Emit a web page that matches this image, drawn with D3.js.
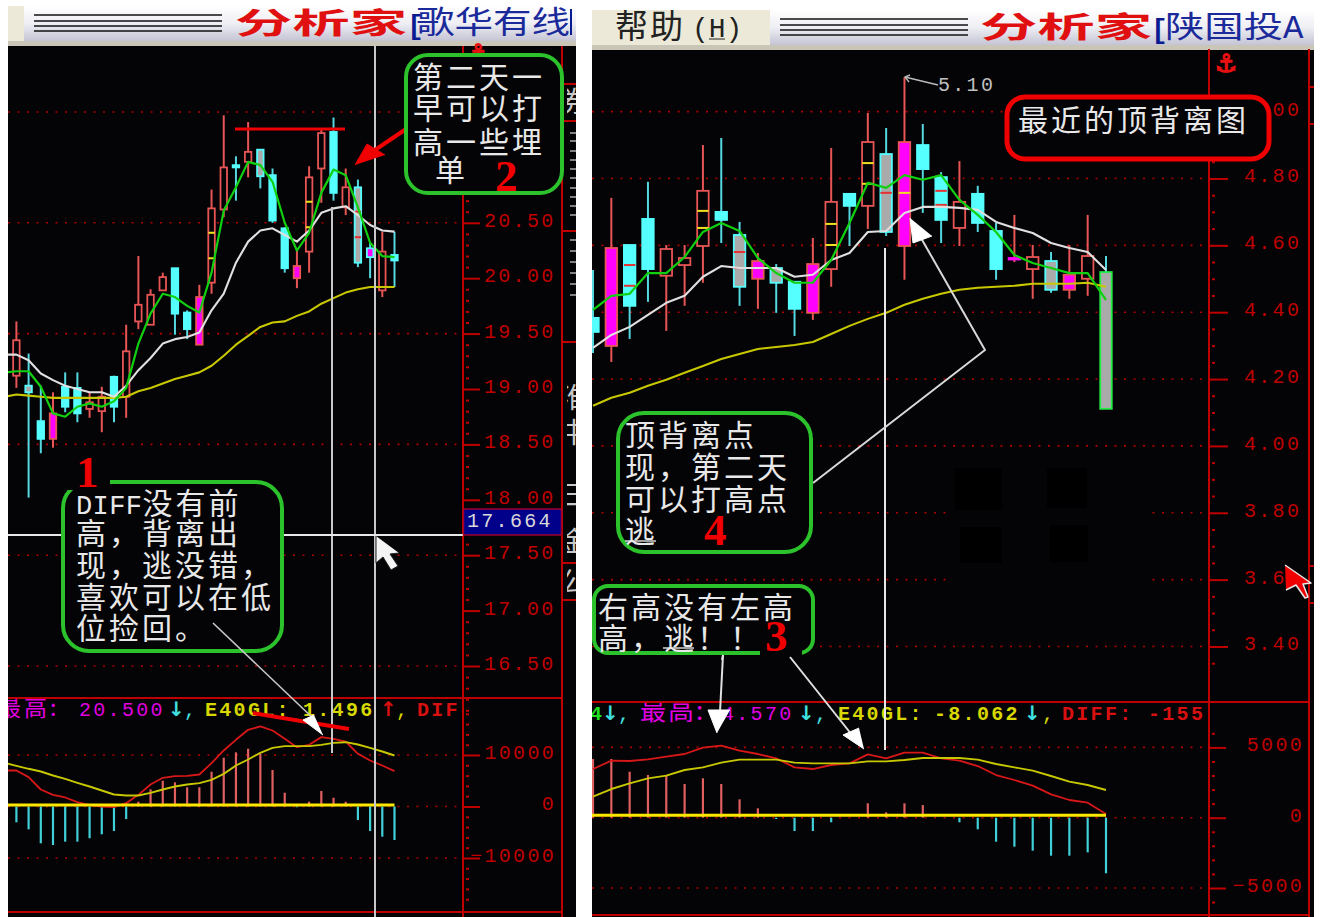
<!DOCTYPE html>
<html><head><meta charset="utf-8">
<script src="https://cdn.jsdelivr.net/npm/d3@7/dist/d3.min.js"></script>
<style>html,body{margin:0;padding:0;background:#fff;overflow:hidden}svg{display:block}</style>
</head><body><svg id="c" width="1323" height="917"></svg>
<script>
// ---------- left chart: price (index 0..31) ----------
const leftHigh=[19.61,19.32,19.03,18.97,19.15,19.15,18.97,19.02,19.12,19.58,20.20,19.90,20.05,20.09,19.71,19.94,20.80,21.47,21.10,21.41,21.16,20.99,20.46,20.27,21.01,21.34,21.45,20.99,20.89,20.32,20.42,20.42];
const leftLow=[19.01,18.02,18.42,18.47,18.79,18.70,18.74,18.61,18.70,18.74,19.54,19.58,19.89,19.49,19.45,19.40,19.86,20.55,20.70,20.91,20.81,20.50,20.05,19.91,20.05,20.68,20.70,20.57,20.10,20.00,19.83,19.92];
const leftTop=[19.44,19.03,18.71,18.78,19.02,19.01,18.88,18.93,19.11,19.34,19.76,19.85,20.01,20.09,19.69,19.83,20.63,21.00,21.02,21.14,21.16,20.93,20.45,20.11,20.91,21.31,21.32,20.82,20.82,20.27,20.24,20.21];
const leftBottom=[19.12,18.97,18.55,18.55,18.84,18.78,18.82,18.80,18.84,18.93,19.61,19.58,19.89,19.68,19.54,19.40,19.96,20.62,21.00,21.05,20.92,20.52,20.09,20.00,20.24,20.99,20.77,20.64,20.14,20.19,19.89,20.16];
const leftKind=["u","g","d","m","d","d","u","u","d","u","u","u","u","d","d","m","u","u","d","u","g","d","d","m","u","u","d","u","g","c","u","d"];
// moving averages start one session earlier (index -1, cut by the panel edge)
const leftMaGreen=[19.15,19.16,19.16,19.02,18.78,18.75,18.84,18.87,18.84,18.89,19.01,19.41,19.68,19.86,19.83,19.75,19.69,20.05,20.61,20.82,21.05,21.02,20.87,20.50,20.25,20.41,20.77,20.98,20.93,20.64,20.32,20.20,20.19];
const leftMaWhite=[19.31,19.31,19.26,19.14,19.08,19.03,19.00,18.97,18.97,18.93,19.03,19.17,19.28,19.41,19.45,19.47,19.51,19.71,19.86,20.14,20.33,20.43,20.45,20.39,20.33,20.43,20.59,20.63,20.65,20.57,20.48,20.43,20.42];
const leftMaYellow=[18.93,18.95,18.94,18.93,18.92,18.92,18.92,18.92,18.92,18.92,18.93,18.98,19.01,19.05,19.09,19.12,19.15,19.21,19.30,19.40,19.48,19.56,19.60,19.61,19.66,19.70,19.77,19.82,19.87,19.90,19.92,19.92,19.92];
const leftYellowTicks=[[16,20.41],[16,20.18],[24,20.69],[24,20.46]];
const leftRedTicks=[[28,20.60],[28,20.37]];
const leftPriceTicks=[16.5,17,17.5,18,18.5,19,19.5,20,20.5,21,21.5];
const leftGridPrices=[21.5,20.5,19.5,18.5,17.5,16.5];
// ---------- left chart: MACD ----------
const leftBars=[-3070,-4430,-7150,-7480,-6830,-6830,-6170,-5400,-4760,-2430,930,3340,5010,4700,3730,3730,6760,9480,10520,11220,10190,7090,2680,-150,930,3010,1700,930,-2620,-4760,-5860,-6500];
const leftDiff=[6990,6990,5700,3300,2260,1750,840,260,0,-130,650,2260,4270,5570,5890,5950,6210,8420,10880,12950,14890,15540,14760,13140,11520,11970,13470,13140,12620,10230,8930,7960,6860];
const leftDea=[8480,7900,7320,6800,6020,5370,4600,3880,3110,2330,2140,2140,2650,3300,3880,4270,4530,5180,6340,7960,9130,10420,11390,11720,11720,11720,11970,12360,12490,12040,11390,10680,9900];
const leftMacdTicks=[-10000,0,10000];
// ---------- right chart: price (index 0..28) ----------
const rightHigh=[4.526,4.742,4.601,4.790,4.601,4.601,4.900,4.921,4.670,4.577,4.544,4.491,4.622,4.891,4.754,4.996,4.951,5.103,4.963,4.819,4.852,4.778,4.667,4.691,4.601,4.580,4.601,4.691,4.568];
const rightLow=[4.278,4.251,4.320,4.431,4.344,4.419,4.488,4.607,4.419,4.410,4.398,4.329,4.377,4.476,4.598,4.649,4.628,4.497,4.697,4.607,4.598,4.640,4.497,4.550,4.440,4.458,4.440,4.449,4.111];
const rightTop=[4.383,4.592,4.601,4.679,4.589,4.562,4.763,4.700,4.631,4.553,4.532,4.491,4.544,4.730,4.754,4.909,4.873,4.909,4.900,4.804,4.730,4.754,4.643,4.562,4.565,4.553,4.512,4.568,4.520];
const rightBottom=[4.341,4.299,4.419,4.529,4.509,4.541,4.598,4.676,4.476,4.500,4.488,4.410,4.398,4.529,4.718,4.718,4.640,4.598,4.828,4.676,4.652,4.667,4.529,4.559,4.529,4.467,4.467,4.500,4.111];
const rightKind=["d","m","d","d","u","u","u","d","g","m","g","d","m","u","d","u","g","m","d","d","u","d","d","x","u","g","m","u","k"];
const rightMaGreen=[4.407,4.449,4.455,4.517,4.517,4.565,4.640,4.667,4.643,4.562,4.517,4.488,4.488,4.556,4.667,4.787,4.772,4.810,4.796,4.810,4.736,4.691,4.640,4.571,4.547,4.532,4.517,4.517,4.437];
const rightMaWhite=[4.293,4.332,4.356,4.392,4.428,4.449,4.506,4.538,4.532,4.532,4.532,4.506,4.512,4.556,4.577,4.640,4.643,4.697,4.715,4.715,4.712,4.706,4.670,4.652,4.637,4.607,4.592,4.580,4.526];
const rightMaYellow=[4.120,4.144,4.159,4.180,4.198,4.219,4.239,4.260,4.275,4.290,4.296,4.302,4.311,4.335,4.359,4.380,4.398,4.422,4.440,4.455,4.467,4.473,4.476,4.479,4.485,4.485,4.485,4.488,4.476];
const rightYellowTicks=[[6,4.703],[6,4.652],[13,4.664],[13,4.601],[15,4.846],[15,4.784],[17,4.757]];
const rightRedTicks=[[2,4.541],[2,4.479],[8,4.580],[8,4.532],[16,4.757],[19,4.763],[19,4.721]];
const rightPriceTicks=[3.4,3.6,3.8,4.0,4.2,4.4,4.6,4.8,5.0];
// ---------- right chart: MACD ----------
const rightBars=[4175,4175,3272,3037,2966,2397,2802,2397,1309,669,-92,-946,-946,-327,0,1024,384,1024,903,0,-327,-825,-1705,-2063,-2347,-2703,-2703,-2468,-3954];
const rightDiff=[3463,4056,4032,4151,4340,4530,4981,5123,4767,4530,4222,3582,3463,3748,3866,4506,4222,4625,4625,4222,4056,3676,3036,2681,2278,1661,1258,1068,262];
const rightDea=[1495,2040,2444,2799,2989,3392,3582,3914,4127,4127,4127,3914,3866,3866,3866,4008,4008,4103,4246,4246,4246,4127,3819,3582,3345,2965,2562,2325,1970];
const rightMacdTicks=[-5000,0,5000];

// ---------- scales ----------
const xL=d3.scaleLinear().domain([0,31]).range([16.4,394.5]);
const xR=d3.scaleLinear().domain([0,28]).range([593,1106]);
const yL=d3.scaleLinear().domain([21.5,16.5]).range([112,666]);
const yR=d3.scaleLinear().domain([5.0,3.4]).range([111.6,646.5]);
const mL=d3.scaleLinear().domain([10000,-10000]).range([755,858]);
const mR=d3.scaleLinear().domain([5000,-5000]).range([747.4,888]);

const svg=d3.select("#c");
const defs=svg.append("defs");
const grad=defs.append("linearGradient").attr("id","hdr").attr("x1",0).attr("x2",0).attr("y1",0).attr("y2",1);
grad.append("stop").attr("offset",0).attr("stop-color","#ffffff");
grad.append("stop").attr("offset",.5).attr("stop-color","#eeeef4");
grad.append("stop").attr("offset",1).attr("stop-color","#c4c4d4");
const clip=(id,x,y,w,h)=>defs.append("clipPath").attr("id",id).append("rect").attr("x",x).attr("y",y).attr("width",w).attr("height",h);
clip("pl",8,46,455,871);clip("pr",592,49,617,868);clip("lstrip",567,46,9,871);
clip("ltxt",8,699,455,22);clip("rtxt",592,703,617,24);

const BG="#040306",AXIS="#c00000",MONO="'Liberation Mono',monospace",CJK="'Noto Sans CJK SC','Noto Sans',sans-serif",SERIF="'Liberation Serif',serif";

// ---------- panels & headers ----------
svg.append("rect").attr("x",8).attr("y",46).attr("width",568).attr("height",871).attr("fill",BG);
svg.append("rect").attr("x",592).attr("y",49).attr("width",722).attr("height",868).attr("fill",BG);
function header(x0,x1,xc,y,linesX0,linesW,brandX){
  const g=svg.append("g");
  g.append("rect").attr("x",x0).attr("y",y).attr("width",xc-x0).attr("height",35).attr("fill","#ece9d8");
  g.append("rect").attr("x",xc).attr("y",y).attr("width",x1-xc).attr("height",35).attr("fill","url(#hdr)");
  g.append("rect").attr("x",x0).attr("y",y+35).attr("width",x1-x0).attr("height",5).attr("fill","#c9c6b8");
  [9,15,20,25].forEach(d=>{
    g.append("line").attr("x1",linesX0).attr("x2",linesX0+linesW).attr("y1",y+d).attr("y2",y+d).attr("stroke","#111").attr("stroke-width",1.6);
  });
  g.append("text").attr("x",brandX).attr("y",y+28).attr("font-family",CJK).attr("font-weight",700).attr("font-size",29)
   .attr("fill","#e01010").attr("textLength",172).attr("lengthAdjust","spacingAndGlyphs").text("分析家");
  return g;
}
const hl=header(8,576,24,6,34,188,235);
hl.append("text").attr("x",407).attr("y",34).attr("font-family",MONO).attr("font-weight",700).attr("font-size",28).attr("fill","#0a1a90").text("[");
hl.append("text").attr("x",416).attr("y",33).attr("font-family",CJK).attr("font-size",31).attr("fill","#1a2a9a").attr("textLength",154).attr("lengthAdjust","spacingAndGlyphs").text("歌华有线");
hl.append("rect").attr("x",570).attr("y",9).attr("width",2).attr("height",26).attr("fill","#0a1a90");
const hr=header(592,1314,770,10,780,188,980);
hr.append("text").attr("x",1151).attr("y",38).attr("font-family",MONO).attr("font-weight",700).attr("font-size",28).attr("fill","#0a1a90").text("[");
hr.append("text").attr("x",1165).attr("y",37).attr("font-family",CJK).attr("font-size",30).attr("fill","#1a2a9a").attr("textLength",118).attr("lengthAdjust","spacingAndGlyphs").text("陕国投");
hr.append("text").attr("x",1283).attr("y",38).attr("font-family",MONO).attr("font-size",34).attr("fill","#1a2a9a").text("A");
hr.append("text").attr("x",615).attr("y",38).attr("font-family",CJK).attr("font-size",33).attr("letter-spacing",2).attr("fill","#222").text("帮助");
hr.append("text").attr("x",692).attr("y",37).attr("font-family",MONO).attr("font-size",28).attr("fill","#222").text("(H)");
hr.append("line").attr("x1",709).attr("x2",725).attr("y1",39).attr("y2",39).attr("stroke","#222");

// ---------- grid ----------
function dots(g,ys,x0,x1){
  g.selectAll(null).data(ys).join("line").attr("x1",x0).attr("x2",x1).attr("y1",d=>d).attr("y2",d=>d)
   .attr("stroke","#b00000").attr("stroke-width",1.6).attr("stroke-dasharray","2 7.5");
}
const gridL=svg.append("g"),gridR=svg.append("g");
dots(gridL,leftGridPrices.map(yL),8,463);
dots(gridL,leftMacdTicks.map(v=>mL(v)),8,463);
dots(gridR,rightPriceTicks.map(yR),592,1208);
dots(gridR,rightMacdTicks.map(v=>mR(v)),592,1208);
// erased patch in the source image, with its four darker squares
gridR.append("rect").attr("x",952).attr("y",500).attr("width",200).attr("height",85).attr("fill",BG);
[[955,468,47,42],[1047,468,40,40],[960,527,42,36],[1050,525,38,37]].forEach(r=>
  gridR.append("rect").attr("x",r[0]).attr("y",r[1]).attr("width",r[2]).attr("height",r[3]).attr("fill","#000"));

// ---------- axes ----------
function frame(xa,xb,x0,yDiv,yBot,yTop){
  const g=svg.append("g").attr("stroke","#c00000").attr("stroke-width",2);
  g.append("line").attr("x1",xa).attr("x2",xa).attr("y1",yTop).attr("y2",917);
  g.append("line").attr("x1",xb).attr("x2",xb).attr("y1",yTop).attr("y2",917);
  g.append("line").attr("x1",x0).attr("x2",xb).attr("y1",yDiv).attr("y2",yDiv);
  g.append("line").attr("x1",x0).attr("x2",xb).attr("y1",yBot).attr("y2",yBot);
}
frame(463,562,8,698,912,46);
frame(1209,1309,592,702,915,49);
function axis(scale,x,values,fmt,size,pad,minor,endAt){
  const g=svg.append("g").attr("transform",`translate(${x},0)`)
   .call(d3.axisRight(scale).tickValues(values).tickSize(size).tickPadding(pad).tickFormat(fmt));
  g.select(".domain").remove();
  g.selectAll("line").attr("stroke",AXIS).attr("stroke-width",2);
  g.selectAll("text").attr("fill",AXIS).attr("font-family",MONO).attr("font-size",20).attr("letter-spacing",2.3).attr("dy","0.17em");
  if(endAt!==undefined) g.selectAll("text").attr("text-anchor","end").attr("x",endAt-x);
  const m=svg.append("g").attr("transform",`translate(${x+3},0)`)
   .call(d3.axisRight(scale).tickValues(minor).tickSize(3).tickFormat(""));
  m.select(".domain").remove();
  m.selectAll("line").attr("stroke",AXIS).attr("stroke-width",2);
}
axis(yL,463,leftPriceTicks,d3.format(".2f"),17,4,d3.range(16.1,21.6,.1).filter(v=>Math.abs(v*2-Math.round(v*2))>.01));
axis(yR,1209,rightPriceTicks,d3.format(".2f"),19,16,d3.range(3.35,5.05,.05).filter(v=>Math.abs(v*5-Math.round(v*5))>.01));
axis(mL,463,leftMacdTicks,d3.format(".0f"),17,4,d3.range(-18000,20000,2000).filter(v=>v%10000),556);
axis(mR,1209,rightMacdTicks,d3.format(".0f"),17,7,d3.range(-6000,7000,1000).filter(v=>v%5000),1304);
// stubs of the clipped outer scale, and clipped characters of the side panel
const stubsLeft=[84,121,231,342,563,600],stubsRight=[87,124,566,603];
svg.append("g").selectAll("line").data(stubsLeft).join("line").attr("x1",562).attr("x2",576).attr("y1",d=>d).attr("y2",d=>d).attr("stroke",AXIS).attr("stroke-width",2);
svg.append("g").selectAll("line").data(stubsRight).join("line").attr("x1",1309).attr("x2",1314).attr("y1",d=>d).attr("y2",d=>d).attr("stroke",AXIS).attr("stroke-width",2);
const sideChars=[["券",112],["I",373],["淮",408],["中",443],["三",505],["金",552],["公",592]];
svg.append("g").attr("clip-path","url(#lstrip)").selectAll("text").data(sideChars).join("text")
 .attr("x",560).attr("y",d=>d[1]).attr("font-family",CJK).attr("font-size",28).attr("fill","#c8c8c8").text(d=>d[0]);
const sideDashes=[133,141,151,160,169,178,188,197,206,215,240,251,262,273,284,295];
svg.append("g").selectAll("line").data(sideDashes).join("line").attr("x1",570).attr("x2",576).attr("y1",d=>d).attr("y2",d=>d).attr("stroke","#b8b8b8").attr("stroke-width",1.4);

// ---------- candles ----------
const stylesK={u:{wick:"#e85555",body:BG,edge:"#e85555"},d:{wick:"#55d8e0",body:"#55ffff",edge:"#55ffff"},
 m:{wick:"#e85555",body:"#ff00ff",edge:"#e85555"},c:{wick:"#55d8e0",body:"#ff00ff",edge:"#55ffff"},
 g:{wick:"#55d8e0",body:"#aaaaaa",edge:"#55ffff"},x:{wick:"#e85555",body:"#ff00ff",edge:"#ff00ff"},
 k:{wick:"#55d8e0",body:"#aaaaaa",edge:"#22ee44"}};
function candles(cp,x,y,hi,lo,top,bot,kind,bw,yTicks,rTicks){
  const g=svg.append("g").attr("clip-path",`url(#${cp})`);
  const row=g.selectAll("g").data(kind.map((k,i)=>({k,i}))).join("g");
  row.append("line").attr("x1",d=>x(d.i)).attr("x2",d=>x(d.i)).attr("y1",d=>y(hi[d.i])).attr("y2",d=>y(lo[d.i]))
    .attr("stroke",d=>stylesK[d.k].wick).attr("stroke-width",2);
  row.append("rect").attr("x",d=>x(d.i)-bw/2).attr("width",bw).attr("y",d=>y(top[d.i]))
    .attr("height",d=>Math.max(y(bot[d.i])-y(top[d.i]),1.5)).attr("fill",d=>stylesK[d.k].body)
    .attr("stroke",d=>stylesK[d.k].edge).attr("stroke-width",1.8);
  [[yTicks,"#f0e020"],[rTicks,"#e83030"]].forEach(([t,c])=>{
    g.selectAll(null).data(t).join("line").attr("x1",d=>x(d[0])-bw/2).attr("x2",d=>x(d[0])+bw/2)
     .attr("y1",d=>y(d[1])).attr("y2",d=>y(d[1])).attr("stroke",c).attr("stroke-width",2);
  });
  return g;
}
const cl=candles("pl",xL,yL,leftHigh,leftLow,leftTop,leftBottom,leftKind,6.5,leftYellowTicks,leftRedTicks);
const cr=candles("pr",xR,yR,rightHigh,rightLow,rightTop,rightBottom,rightKind,11.5,rightYellowTicks,rightRedTicks);

function series(g,arr,x,y,color,w,offset){
  g.append("path").datum(arr).attr("fill","none").attr("stroke",color).attr("stroke-width",w).attr("stroke-linejoin","round")
   .attr("d",d3.line().x((d,i)=>x(i+offset)).y(d=>y(d)));
}
series(cl,leftMaYellow,xL,yL,"#c8c800",2.1,-1);
series(cl,leftMaWhite,xL,yL,"#e0e0e0",2.1,-1);
series(cl,leftMaGreen,xL,yL,"#10d010",2.2,-1);
series(cr,rightMaYellow,xR,yR,"#c8c800",2.1,0);
series(cr,rightMaWhite,xR,yR,"#e0e0e0",2.1,0);
series(cr,rightMaGreen,xR,yR,"#10d010",2.2,0);

// ---------- MACD ----------
function macd(cp,x,m,bars,diff,dea,offset,x0,x1,off){
  const g=svg.append("g").attr("clip-path",`url(#${cp})`);
  g.selectAll("line.b").data(bars).join("line").attr("class","b").attr("x1",(d,i)=>x(i)).attr("x2",(d,i)=>x(i))
   .attr("y1",m(0)).attr("y2",d=>m(d)).attr("stroke",d=>d>0?"#e06060":"#40d0d8").attr("stroke-width",2.2);
  series(g,diff,x,m,"#d81818",1.8,offset);
  series(g,dea,x,m,"#c8c800",1.9,offset);
  g.append("line").attr("x1",x0).attr("x2",x1).attr("y1",m(0)-off).attr("y2",m(0)-off).attr("stroke","#ffe800").attr("stroke-width",3);
}
macd("pl",xL,mL,leftBars,leftDiff,leftDea,-1,8,xL(31),1.5);
macd("pr",xR,mR,rightBars,rightDiff,rightDea,0,592,xR(28),2.5);

// ---------- indicator strings: text, x, colour, family, weight, size, spacing ----------
function strip(cp,y,parts){
  const g=svg.append("g").attr("clip-path",`url(#${cp})`);
  parts.forEach(p=>g.append("text").attr("x",p[1]).attr("y",y).attr("fill",p[2]).attr("font-family",p[3]||MONO)
    .attr("font-weight",p[4]||400).attr("font-size",p[5]||20).attr("letter-spacing",p[6]===undefined?2.3:p[6]).text(p[0]));
}
const MG="#e000e0",YL="#d8d800",RD="#d81010",CY="#40e0e0";
strip("ltxt",716,[["最高:",-2,MG,CJK,400,23,3],["20.500",79,MG],["↓",168,CY,"'DejaVu Sans'",700],[",",184,CY],
 ["E40GL:",205,YL,MONO,700],["1.496",303,YL,MONO,700],["↑",380,RD,"'DejaVu Sans'",700],[",",396,YL],["DIF",417,RD,MONO,700]]);
strip("rtxt",720,[["4",590,"#20e020",MONO,700],["↓",602,CY,"'DejaVu Sans'",700],[",",618,CY],["最高:",640,MG,CJK,400,26,2],
 ["4.570",722,MG],["↓",798,CY,"'DejaVu Sans'",700],[",",815,CY],["E40GL:",838,YL,MONO,700],["-8.062",934,YL,MONO,700],
 ["↓",1024,CY,"'DejaVu Sans'",700],[",",1042,YL],["DIFF:",1062,RD,MONO,700],["-155",1148,RD,MONO,700]]);

// ---------- overlay lines ----------
function pl(points,color,w,extra){
  return svg.append("path").attr("d",d3.line()(points)).attr("fill",extra||"none").attr("stroke",color).attr("stroke-width",w).attr("stroke-linejoin","round");
}
const LG="#c8c8c8";
pl([[332,207],[332,753]],LG,2);
pl([[375,46],[375,917]],LG,2);
pl([[8,535],[463,535]],"#e8e8e8",2);
pl([[885,248],[885,750]],"#e8e8e8",2);
// red markup, left
pl([[235,129],[345,129]],"#f00000",3);
pl([[412,125],[375,150]],"#f00000",4);
pl([[355,165],[367,144],[385,155]],"#f00000",1,"#f00000");
pl([[253,713],[349,729]],"#f00000",4);
// white cursor and pointers
pl([[376,536],[376,563],[383,557],[391,570],[398,566],[390,554],[399,553]],"#222",1,"#f4f4f4");
pl([[921,238],[985,350],[813,483]],"#d8d8d8",2);
pl([[910,218],[913,243],[932,236]],"#fff",1,"#fff");
pl([[723,655],[720,712]],"#e0e0e0",2);
pl([[717,733],[708,710],[730,710]],"#fff",1,"#fff");
pl([[790,657],[852,735]],"#e0e0e0",2);
pl([[864,749],[843,735],[859,728]],"#fff",1,"#fff");
pl([[905,77],[938,85]],"#b8b8b8",1.6);
pl([[910,75],[905,77],[909,82]],"#b8b8b8",1.4);
svg.append("text").attr("x",938).attr("y",91).attr("font-family",MONO).attr("font-size",20).attr("letter-spacing",2.3).attr("fill","#c0c0c0").text("5.10");

// anchors
[[1226,72],[478,62]].forEach(a=>svg.append("text").attr("x",a[0]).attr("y",a[1]).attr("text-anchor","middle").attr("font-family","'DejaVu Sans'").attr("font-weight",700).attr("font-size",25).attr("fill","#e81010").attr("stroke","#e81010").attr("stroke-width",1.2).text("⚓"));

// ---------- callout boxes ----------
const GRN="#2cc22c";
function box(x,y,w,h,r,color,sw){
  svg.append("rect").attr("x",x).attr("y",y).attr("width",w).attr("height",h).attr("rx",r).attr("fill",BG).attr("stroke",color).attr("stroke-width",sw);
}
function lines(x,arr){
  arr.forEach(([t,cy,dx])=>{
    const el=svg.append("text").attr("x",x+(dx||0)).attr("y",cy+11).attr("font-family",CJK).attr("font-size",30).attr("letter-spacing",3).attr("fill","#e8e8e8");
    if(t.startsWith("DIFF")){
      el.append("tspan").attr("font-family",MONO).attr("font-size",27).attr("letter-spacing",0.4).text("DIFF");
      el.append("tspan").text(t.slice(4));
    } else el.text(t);
  });
}
function num(t,x,y){
  svg.append("text").attr("x",x).attr("y",y).attr("font-family",SERIF).attr("font-weight",700).attr("font-size",45).attr("fill","#f00000").text(t);
}
// 2
box(406,55,156,138,22,GRN,4);
lines(413,[["第二天一",77],["早可以打",108],["高一些埋",142],["单",170,22]]);
num("2",495,191);
// 1: the top edge is broken by the numeral
box(63,482,219,169,26,GRN,4);
svg.append("rect").attr("x",60).attr("y",478).attr("width",50).attr("height",12).attr("fill",BG);
svg.append("rect").attr("x",60).attr("y",488).attr("width",6).attr("height",5).attr("fill",BG);
lines(76,[["DIFF没有前",503],["高，背离出",533],["现，逃没错，",565],["喜欢可以在低",597],["位捡回。",628]]);
num("1",76,487);
pl([[213,623],[316,721]],LG,1.6);
pl([[323,735],[303,720],[314,715]],"#fff",1,"#fff");
// 4
box(618,413,193,139,26,GRN,4);
lines(625,[["顶背离点",435],["现，第二天",467],["可以打高点",499],["逃",531]]);
svg.append("line").attr("x1",625).attr("x2",656).attr("y1",541).attr("y2",541).attr("stroke","#e8e8e8").attr("stroke-width",1.4);
num("4",704,545);
// 3
box(594,586,219,67,14,GRN,4);
svg.append("rect").attr("x",760).attr("y",649).attr("width",42).attr("height",7).attr("fill",BG);
lines(598,[["右高没有左高",607],["高，逃！！",638]]);
svg.append("line").attr("x1",663).attr("x2",694).attr("y1",648).attr("y2",648).attr("stroke","#e8e8e8").attr("stroke-width",1.4);
num("3",765,651);
pl([[723,655],[722,660]],"#e0e0e0",2);
// red box
box(1007,97,262,62,18,"#f00000",5);
lines(1018,[["最近的顶背离图",120]]);

// crosshair price tag
svg.append("rect").attr("x",463.5).attr("y",509).attr("width",98).attr("height",26).attr("fill","#00008b").attr("stroke","#a00030").attr("stroke-width",1.5);
svg.append("text").attr("x",467).attr("y",527).attr("font-family",MONO).attr("font-size",20).attr("letter-spacing",2.3).attr("fill","#d8d8d8").text("17.664");

// red pointer right
pl([[1285,565],[1311,583],[1303,584],[1308,597],[1305,598],[1296,585],[1286,590]],"#e8e8e8",1.5,"#f00000");
</script></body></html>
